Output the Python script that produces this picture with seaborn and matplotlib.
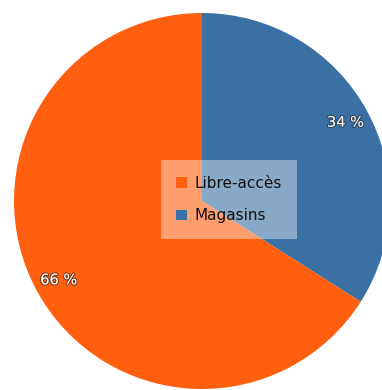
import matplotlib
matplotlib.use("Agg")
import matplotlib.pyplot as plt
import matplotlib.patheffects as pe
from matplotlib.patches import Patch
import seaborn as sns

categories = ["Libre-accès", "Magasins"]
shares = [66, 34]
colors = ["#ff5f0e", "#3a70a4"]

sns.set_style("white")
plt.rcParams["font.family"] = ["DejaVu Sans"]

fig = plt.figure(figsize=(3.82, 3.90), dpi=100)
ax = fig.add_axes([0, 0, 1, 1])

# Magasins drawn first, clockwise from 12 o'clock, then Libre-accès
order = [1, 0]
wedges, texts, autotexts = ax.pie(
    [shares[i] for i in order],
    colors=[colors[i] for i in order],
    startangle=90,
    counterclock=False,
    radius=1.0,
    autopct=lambda p: f"{p:.0f} %",
    pctdistance=0.87,
    wedgeprops=dict(linewidth=0),
    textprops=dict(color="white", fontsize=10.5),
)
for t in autotexts:
    t.set_path_effects([pe.withStroke(linewidth=1.6, foreground=(0.15, 0.15, 0.15, 0.6))])

scale = 188.0
ax.set_xlim(-202 / scale, 180 / scale)
ax.set_ylim(-189 / scale, 201 / scale)
ax.set_aspect("auto")
ax.axis("off")

handles = [Patch(facecolor=colors[i], edgecolor="none") for i in range(len(categories))]
leg = ax.legend(
    handles, categories,
    loc="center", bbox_to_anchor=(229 / 382, 1 - 199.5 / 390),
    bbox_transform=fig.transFigure,
    fontsize=11, frameon=True, fancybox=False, framealpha=0.4,
    handlelength=0.7, handleheight=0.7, handletextpad=0.5,
    borderpad=1.0, labelspacing=1.15,
)
for txt in leg.get_texts():
    txt.set_color("#111111")
frame = leg.get_frame()
frame.set_facecolor("white")
frame.set_edgecolor("none")

fig.savefig("out.png", dpi=100)
